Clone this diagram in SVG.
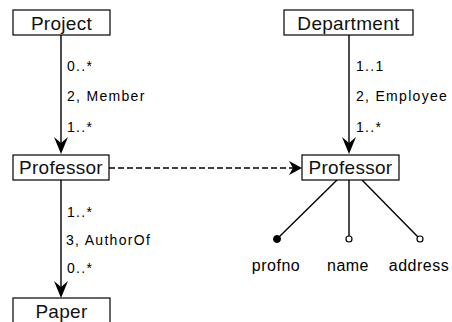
<svg xmlns="http://www.w3.org/2000/svg" width="452" height="322" viewBox="0 0 452 322">
  <style>
    .box { fill: #ffffff; stroke: #000000; stroke-width: 1.2; }
    .name { font-family: "Liberation Sans", Arial, sans-serif; font-size: 19px; letter-spacing: 0.3px; text-anchor: middle; fill: #111111; }
    .lbl { font-family: "Liberation Sans", Arial, sans-serif; font-size: 14px; letter-spacing: 1.3px; fill: #000000; }
    .attr { font-family: "Liberation Sans", Arial, sans-serif; font-size: 16px; letter-spacing: 0.5px; text-anchor: middle; fill: #000000; }
    .edge { stroke: #000000; stroke-width: 1.4; fill: none; }
    .dash { stroke-dasharray: 6 3; }
    .head { fill: #000000; }
  </style>

  <!-- connectors: lines, arrowheads and role labels -->
  <g id="connectors">
    <line class="edge" x1="61" y1="35" x2="61" y2="146"/>
    <path class="head" d="M61,154 L54,137 L61,143 L68,137 Z"/>
    <line class="edge" x1="61" y1="180" x2="61" y2="290"/>
    <path class="head" d="M61,298 L54,281 L61,287 L68,281 Z"/>
    <line class="edge" x1="349" y1="35" x2="349" y2="146"/>
    <path class="head" d="M349,154 L342,137 L349,143 L356,137 Z"/>
    <line class="edge dash" x1="109" y1="168" x2="296" y2="168"/>
    <path class="head" d="M302,168 L289,161 L293,168 L289,175 Z"/>
    <line class="edge" x1="337" y1="180" x2="277" y2="239"/>
    <line class="edge" x1="349" y1="180" x2="349" y2="236"/>
    <line class="edge" x1="362" y1="180" x2="418" y2="237"/>
    <text class="lbl" x="67" y="71">0..*</text>
    <text class="lbl" x="67" y="101">2, Member</text>
    <text class="lbl" x="67" y="132">1..*</text>
    <text class="lbl" x="67" y="217">1..*</text>
    <text class="lbl" x="66" y="245">3, AuthorOf</text>
    <text class="lbl" x="67" y="273">0..*</text>
    <text class="lbl" x="356" y="71">1..1</text>
    <text class="lbl" x="356" y="101">2, Employee</text>
    <text class="lbl" x="356" y="132">1..*</text>
  </g>

  <g id="project">
    <rect class="box" x="13" y="10" width="97" height="25"/>
    <text class="name" x="61.5" y="30">Project</text>
  </g>
  <g id="department">
    <rect class="box" x="284" y="10" width="129" height="25"/>
    <text class="name" x="348.5" y="30">Department</text>
  </g>
  <g id="professor-left">
    <rect class="box" x="13" y="155" width="96" height="25"/>
    <text class="name" x="61" y="174">Professor</text>
  </g>
  <g id="professor-right">
    <rect class="box" x="302" y="155" width="97" height="25"/>
    <text class="name" x="350.5" y="174">Professor</text>
  </g>
  <g id="paper">
    <rect class="box" x="13" y="298" width="97" height="30"/>
    <text class="name" x="61.5" y="318">Paper</text>
  </g>

  <g id="attr-profno">
    <circle cx="277" cy="239" r="3.5" fill="#000000" stroke="#000000" stroke-width="1"/>
    <text class="attr" x="276" y="271">profno</text>
  </g>
  <g id="attr-name">
    <circle cx="349" cy="239" r="3" fill="#ffffff" stroke="#000000" stroke-width="1.2"/>
    <text class="attr" x="348" y="271">name</text>
  </g>
  <g id="attr-address">
    <circle cx="420" cy="239" r="3" fill="#ffffff" stroke="#000000" stroke-width="1.2"/>
    <text class="attr" x="419" y="271">address</text>
  </g>
</svg>
